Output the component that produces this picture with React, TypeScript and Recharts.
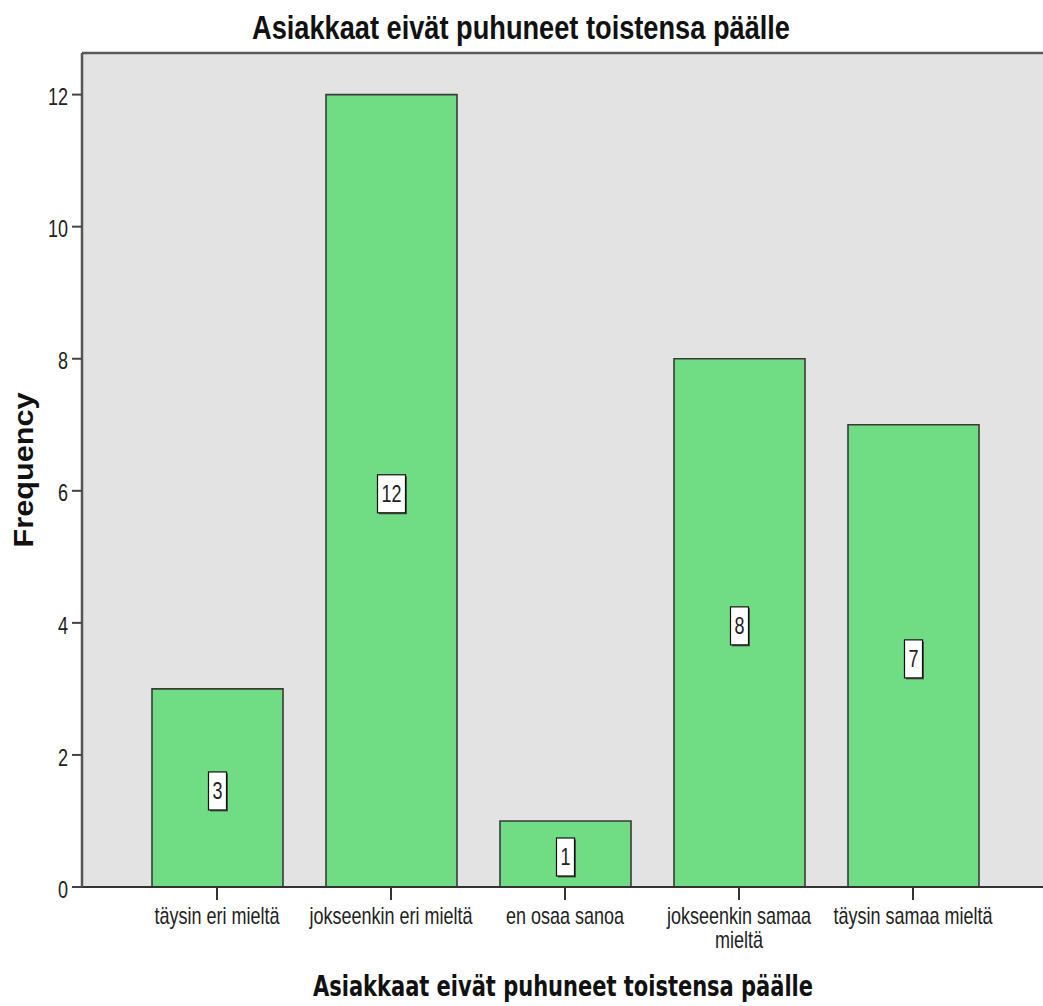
import { BarChart, Bar, XAxis, YAxis, CartesianGrid, ReferenceLine, LabelList, Text } from "recharts"

const categories = [
  "täysin eri mieltä",
  "jokseenkin eri mieltä",
  "en osaa sanoa",
  "jokseenkin samaa mieltä",
  "täysin samaa mieltä",
]
const frequencies = [3, 12, 1, 8, 7]
const yTicks = [0, 2, 4, 6, 8, 10, 12]
const yMax = 12.63
const chartTitle = "Asiakkaat eivät puhuneet toistensa päälle"
const xTitle = "Asiakkaat eivät puhuneet toistensa päälle"
const yTitle = "Frequency"

const data = categories.map((c, i) => ({ category: c, count: frequencies[i] }))

const SANS = "'Liberation Sans', Arial, sans-serif"
const STRETCH = 1.3

function YTick({ x, y, payload }: any) {
  return (
    <g transform={`translate(${x},${y}) scale(1,1.35)`}>
      <text textAnchor="end" dy={7.9} fontSize={18} fontFamily={SANS} fill="#222">
        {payload.value}
      </text>
    </g>
  )
}

function XTick({ x, y, payload }: any) {
  return (
    <g transform={`translate(${x},${y + 7.4}) scale(1,${STRETCH})`}>
      <Text
        x={0}
        y={0}
        width={170}
        textAnchor="middle"
        verticalAnchor="start"
        lineHeight={18.3}
        fill="#222"
        style={{ fontSize: 18, fontFamily: SANS }}
      >
        {payload.value}
      </Text>
    </g>
  )
}

function ValueBox(props: any) {
  const x = Number(props.x)
  const y = Number(props.y)
  const width = Number(props.width)
  const height = Number(props.height)
  const label = String(props.value)
  const cx = x + width / 2
  const cy = y + height / 2 + 3
  const w = label.length * 10 + 8
  const h = 38
  return (
    <g>
      <rect x={cx - w / 2 + 1.5} y={cy - h / 2 + 1.5} width={w} height={h} fill="#555" />
      <rect x={cx - w / 2} y={cy - h / 2} width={w} height={h} fill="#fff" stroke="#111" strokeWidth={1.2} />
      <g transform={`translate(${cx},${cy}) scale(1,${STRETCH})`}>
        <text textAnchor="middle" dy={6.4} fontSize={18} fontFamily={SANS} fill="#222">
          {label}
        </text>
      </g>
    </g>
  )
}

export default function App() {
  return (
    <div
      style={{
        position: "absolute",
        left: 0,
        top: 0,
        width: 1043,
        height: 1006,
        overflow: "hidden",
        background: "#fff",
      }}
    >
      <BarChart
        width={1060}
        height={1006}
        data={data}
        margin={{ top: 53, right: 12, left: 12, bottom: 59 }}
      >
        <CartesianGrid fill="#e3e3e3" horizontal={false} vertical={false} />
        <ReferenceLine y={yMax} stroke="#5a5a5a" strokeWidth={2.5} />
        <XAxis
          dataKey="category"
          height={60}
          padding={{ left: 48, right: 48 }}
          axisLine={{ stroke: "#333", strokeWidth: 2 }}
          tickLine={{ stroke: "#333", strokeWidth: 2 }}
          tickSize={13}
          tickMargin={0}
          interval={0}
          tick={<XTick />}
        />
        <YAxis
          type="number"
          width={70}
          domain={[0, yMax]}
          ticks={yTicks}
          allowDataOverflow
          axisLine={{ stroke: "#555", strokeWidth: 2.5 }}
          tickLine={{ stroke: "#444", strokeWidth: 2 }}
          tickSize={10}
          tickMargin={4}
          tick={<YTick />}
        />
        <Bar
          dataKey="count"
          barSize={131}
          fill="#70dc84"
          stroke="#3a3a3a"
          strokeWidth={1.6}
          isAnimationActive={false}
        >
          <LabelList dataKey="count" content={<ValueBox />} />
        </Bar>
      </BarChart>
      <svg
        width={1043}
        height={1006}
        style={{ position: "absolute", left: 0, top: 0, pointerEvents: "none" }}
      >
        <text
          x={521}
          y={39}
          textAnchor="middle"
          fontSize={33}
          fontWeight="bold"
          fontFamily={SANS}
          textLength={538}
          lengthAdjust="spacingAndGlyphs"
          fill="#111"
        >
          {chartTitle}
        </text>
        <text
          transform="translate(33,470) rotate(-90)"
          textAnchor="middle"
          fontSize={28}
          fontWeight="bold"
          fontFamily={SANS}
          textLength={155}
          lengthAdjust="spacingAndGlyphs"
          fill="#111"
        >
          {yTitle}
        </text>
        <text
          x={563}
          y={996}
          textAnchor="middle"
          fontSize={29}
          fontWeight="bold"
          fontFamily="'DejaVu Sans Condensed', 'DejaVu Sans', sans-serif"
          textLength={500}
          lengthAdjust="spacingAndGlyphs"
          fill="#111"
        >
          {xTitle}
        </text>
      </svg>
    </div>
  )
}
